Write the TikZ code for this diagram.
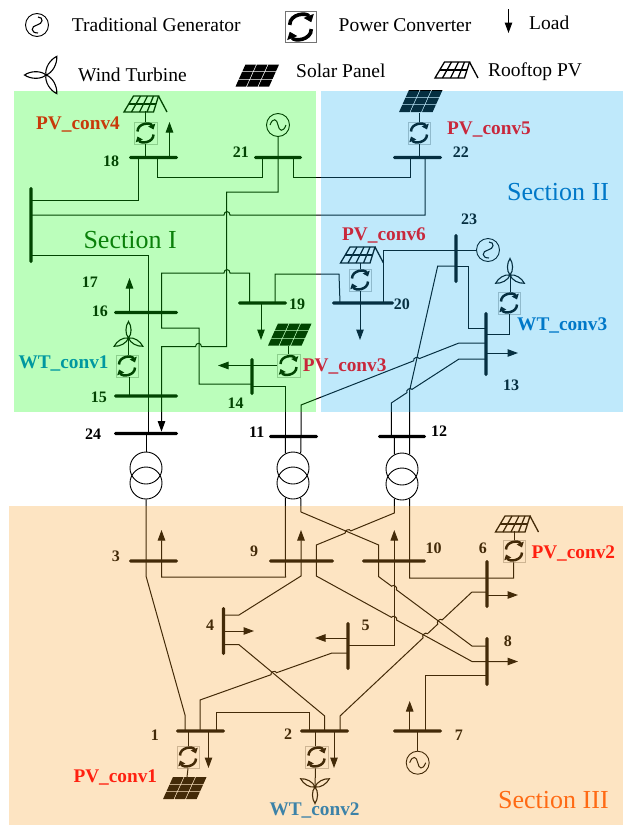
\documentclass[tikz,border=0pt]{standalone}
\usepackage{fontspec}
\setmainfont{Liberation Serif}
\usetikzlibrary{arrows.meta}
\definecolor{secG}{RGB}{4,252,4}
\definecolor{secB}{RGB}{19,174,241}
\definecolor{secO}{RGB}{248,156,30}
\definecolor{txGreen}{RGB}{10,128,10}
\definecolor{txBlue}{RGB}{0,120,200}
\definecolor{txOrange}{RGB}{255,106,20}
\definecolor{lbBrick}{RGB}{200,58,10}
\definecolor{lbCrimson}{RGB}{200,40,60}
\definecolor{lbTeal}{RGB}{0,152,160}
\definecolor{lbRed}{RGB}{255,32,16}
\definecolor{lbSteel}{RGB}{60,130,168}
\tikzset{
  wire/.style={line width=1pt,black},
  load/.style={wire,-{Triangle[length=10.5pt,width=7.5pt]}},
  hbus/.style={rectangle,fill=black,inner sep=0pt,minimum width=#1pt,minimum height=3.4pt,rounded corners=1.6pt},
  vbus/.style={rectangle,fill=black,inner sep=0pt,minimum height=#1pt,minimum width=3.4pt,rounded corners=1.6pt},
  xcirc/.style={circle,draw=black,line width=0.9pt,inner sep=0pt,minimum size=32pt},
  gencirc/.style={circle,draw=black,line width=0.9pt,inner sep=0pt,minimum size=23pt},
  convbox/.style={rectangle,draw=black!25,line width=0.4pt,inner sep=0pt,minimum size=22.5pt},
  busnum/.style={anchor=base west,inner sep=0pt,font=\fontsize{16}{18}\selectfont\bfseries},
  convlab/.style={anchor=base west,inner sep=0pt,font=\fontsize{19.3}{22}\selectfont\bfseries},
  legend/.style={anchor=base west,inner sep=0pt,font=\fontsize{19.5}{22}\selectfont},
  seclab/.style={anchor=base west,inner sep=0pt,font=\fontsize{26}{28}\selectfont},
  pics/convsym/.style={code={
    \draw[line width=#1pt,line cap=butt,-{Triangle[length=1.9*#1pt,width=2.9*#1pt]}] (-8,-1.5) .. controls (-8,-10) and (5,-11) .. (8,-3.5);
    \draw[line width=#1pt,line cap=butt,-{Triangle[length=1.9*#1pt,width=2.9*#1pt]}] (8,1.5) .. controls (8,10) and (-5,11) .. (-8,3.5);
  }},
  windsym/.pic={
    \foreach \a in {90,210,330}
      \draw[line width=1.1pt,rotate=\a] (0,0) .. controls (4,-3.6) and (12,-3.2) .. (16.5,0) .. controls (12,3.2) and (4,3.6) .. (0,0);
  },
  solarsym/.pic={
    \foreach \i in {0,1,2} \foreach \j in {0,1,2}
      \fill[xslant=0.45] (-17+\i*11.5,-11+\j*7.6) rectangle ++(10.6,6.8);
  },
  roofsym/.pic={
    \draw[line width=1.3pt] (-21.5,8) -- (8,8) -- (13,-8) -- (-12,-8) -- cycle;
    \draw[line width=1.3pt] (-16.7,0) -- (10.5,0);
    \draw[line width=1.3pt] (-14,8) -- (-5,-8) (-6,8) -- (2,-8) (1.5,8) -- (8,-8);
    \draw[line width=1.3pt] (13,-8) -- (21.5,8);
  },
  sinesym/.pic={
    \draw[line width=1pt] (-8,0) .. controls (-5,-8) and (-1,-6) .. (0,0) .. controls (1,6) and (5,8) .. (8,0);
  },
  swirlsym/.pic={
    \draw[line width=1.1pt] (1,-8) .. controls (7,-8) and (6,-1) .. (0,0) .. controls (-6,1) and (-7,8) .. (1,8);
  }
}
\begin{document}
\begin{tikzpicture}[x=1pt,y=-1pt]
\useasboundingbox (0,0) rectangle (632,825);

% ---------- buses
\node[hbus=49] (b18) at (153.5,157.5) {};
\node[hbus=48] (b21) at (278,157.5) {};
\node[hbus=49] (b22) at (417.5,157.5) {};
\node[vbus=76] (b17) at (31,225) {};
\node[hbus=64] (b16) at (146,312.5) {};
\node[hbus=64] (b15) at (146,396) {};
\node[hbus=64] (b24) at (146,433.5) {};
\node[hbus=49] (b19) at (262.5,303) {};
\node[hbus=62] (b20) at (363,303) {};
\node[vbus=37] (b14) at (252,376.5) {};
\node[vbus=49] (b23) at (456,258.5) {};
\node[vbus=64] (b13) at (486,344) {};
\node[hbus=49] (b11) at (293.5,436.5) {};
\node[hbus=48] (b12) at (402,436.5) {};
\node[hbus=49] (b3) at (153.5,561) {};
\node[hbus=65] (b9) at (301.5,561) {};
\node[hbus=64] (b10) at (394,561) {};
\node[vbus=48] (b6) at (487,584) {};
\node[vbus=48] (b4) at (223.5,631) {};
\node[vbus=48] (b5) at (348,646) {};
\node[vbus=49] (b8) at (487,661.5) {};
\node[hbus=49] (b1) at (200.5,731) {};
\node[hbus=49] (b2) at (324.5,731) {};
\node[hbus=49] (b7) at (417.5,731) {};

% ---------- transformers
\node[xcirc] (t24a) at (146,468) {};
\node[xcirc] (t24b) at (146,483) {};
\node[xcirc] (t11a) at (293,468) {};
\node[xcirc] (t11b) at (293,483) {};
\node[xcirc] (t12a) at (402,469) {};
\node[xcirc] (t12b) at (402,484) {};

% ---------- generators
\node[gencirc] (g21) at (278,125) {};
\pic at (g21) {sinesym};
\node[gencirc] (g23) at (488,250) {};
\pic at (g23) {swirlsym};
\node[gencirc] (g7) at (417.7,762.7) {};
\pic at (g7) {sinesym};

% ---------- converters
\foreach \nm/\cx/\cy in {c4/145.5/133,c5/419/133,c6/360/280,c13/509/303,c15/127/366,c3/288.5/365.5,c1/188/757,c2/316.5/757,c62/514/551}{
  \node[convbox] (\nm) at (\cx,\cy) {};
  \pic at (\nm) {convsym=2.5};
}

% ---------- sources
\coordinate (p4) at (145.5,111);
\pic at (145.5,104) {roofsym};
\coordinate (p5) at (419,113);
\pic at (421,101) {solarsym};
\coordinate (p6) at (360,263);
\pic at (362,255) {roofsym};
\coordinate (p3) at (288.5,346);
\pic at (290,334.5) {solarsym};
\coordinate (p1) at (187,777);
\pic at (185,788) {solarsym};
\coordinate (p62) at (514,531);
\pic at (517,524) {roofsym};
\coordinate (w15) at (128.5,338);
\pic at (w15) {windsym};
\coordinate (w13) at (510,275);
\pic at (w13) {windsym};
\coordinate (w2) at (315,787);
\pic[rotate=180] at (w2) {windsym};

% ---------- section I and II wiring
\draw[wire] (b18 -| 138.5,0) -- (138.5,200) -- (b17 |- 0,200);
\draw[wire] (b18 -| 157,0) -- (157,177) -- (262.5,177) -- (b21 -| 262.5,0);
\draw[wire] (b21 -| 293.5,0) -- (293.5,177) -- (410,177) -- (b22 -| 410,0);
\draw[wire] (b22 -| 425,0) -- (425,215) -- (230,215) .. controls (230,210.5) and (224,210.5) .. (224,215) -- (b17 |- 0,215);
\draw[load] (g21.south) -- (278,192) -- (226.5,192) -- (226.5,346.7) -- (201.5,346.7) .. controls (201.5,342.2) and (195.5,342.2) .. (195.5,346.7) -- (161.5,346.7) -- (b24.north -| 161.5,0);
\draw[wire] (b17 |- 0,255.5) -- (148,255.5) -- (b24 -| 148,0);
\draw[wire] (b24 -| 146,0) -- (t24a.north);
\draw[wire] (b19 -| 249.5,0) -- (249.5,273) -- (230,273) .. controls (230,268.5) and (224,268.5) .. (224,273) -- (161.5,273) -- (161.5,328) -- (199,328) -- (199,384) -- (b14 |- 0,384);
\draw[wire] (b14 |- 0,386.5) -- (285.5,386.5) -- (b11 -| 285.5,0);
\draw[wire] (b19 -| 275,0) -- (275,274) -- (339,274) -- (b20 -| 340,0);
\draw[load] (b19 -| 261,0) -- (261,340);
\draw[load] (c3.west) -- (218,365.5);
\draw[wire] (p3) -- (c3.north);
\draw[wire] (b11 -| 301,0) -- (301,405) -- (413.7,360.8) .. controls (412.6,358) and (418.2,355.8) .. (419.3,358.6) -- (459,343) -- (b13 |- 0,343);
\draw[wire] (b12 -| 391.3,0) -- (391.3,403) -- (407,392.6) .. controls (405.4,390.1) and (410.4,386.9) .. (412,389.4) -- (459,359) -- (b13 |- 0,359);
\draw[wire] (b12 -| 409.5,0) -- (409.5,391) -- (437.7,266) -- (b23 |- 0,266);
\draw[wire] (b23 |- 0,266) -- (468.7,266) -- (468.7,328.3) -- (b13 |- 0,328.3);
\draw[wire] (g23.west) -- (383.7,250) -- (b20 -| 383.7,0);
\draw[wire] (p6) -- (c6.north);
\draw[load] (c6.south) -- (360,340);
\draw[wire] (p5) -- (c5.north);
\draw[wire] (c5.south) -- (b22 -| 419,0);
\draw[wire] (p4) -- (c4.north);
\draw[wire] (c4.south) -- (b18 -| 145.5,0);
\draw[load] (b18 -| 169.5,0) -- (169.5,122);
\draw[load] (b16 -| 129.5,0) -- (129.5,278);
\draw[wire] (w15) -- (c15.north -| 128.5,0);
\draw[wire] (c15.south -| 129,0) -- (b15 -| 129,0);
\draw[wire] (b13 |- 0,334) -- (509,334) -- (c13.south);
\draw[wire] (w13) -- (c13.north -| 510,0);
\draw[load] (b13 |- 0,353) -- (518,353);

% ---------- transformer leads
\draw[wire] (b11 -| 285.5,0) -- (t11a.118);
\draw[wire] (b11 -| 301,0) -- (t11a.62);
\draw[wire] (b12 -| 394.3,0) -- (t12a.118);
\draw[wire] (b12 -| 409.5,0) -- (t12a.62);

% ---------- section III wiring
\draw[wire] (t24b.south) -- (146,576) -- (185,715) -- (b1 -| 185,0);
\draw[load] (t11b.242) -- (285.5,577) -- (161.5,577) -- (161.5,530);
\draw[wire] (t11b.298) -- (301,512) -- (378.7,545) -- (378.7,576.7) -- (391.6,586.2) .. controls (393.4,583.8) and (398.2,587.4) .. (396.4,589.8) -- (472,646) -- (b8 |- 0,646);
\draw[load] (t12b.242) -- (394.3,513) -- (350.8,530.9) .. controls (349.7,528.1) and (344.1,530.3) .. (345.2,533.1) -- (316.3,545) -- (316.3,576) -- (391.4,617.3) .. controls (392.8,614.7) and (398,617.5) .. (396.6,620.1) -- (472,661.5) -- (518,661.5);
\draw[wire] (t12b.298) -- (409.7,578) -- (513.7,578) -- (c62.south -| 513.7,0);
\draw[load] (b4 |- 0,615) -- (239,615) -- (301,576) -- (301,530);
\draw[load] (b4 |- 0,631) -- (254,631);
\draw[wire] (b4 |- 0,644.7) -- (239,644.7) -- (324.7,716) -- (b2 -| 324.7,0);
\draw[load] (b5 |- 0,638) -- (315,638);
\draw[load] (b5 |- 0,645) -- (394.3,645) -- (394.3,530);
\draw[wire] (b5 |- 0,653) -- (332,653) -- (276.6,672.7) .. controls (275.6,669.9) and (270,671.9) .. (271,674.7) -- (200,700) -- (b1 -| 200,0);
\draw[wire] (b1 -| 216,0) -- (216,712) -- (309,712) -- (b2 -| 309,0);
\draw[load] (b6 |- 0,595) -- (518,595);
\draw[wire] (b6 |- 0,592) -- (472,592) -- (442.2,619.9) .. controls (440.2,617.7) and (435.8,621.9) .. (437.8,624.1) -- (427.5,633.7) .. controls (425.5,631.5) and (421.1,635.7) .. (423.1,637.9) -- (340,716) -- (b2 -| 340,0);
\draw[wire] (b8 |- 0,675) -- (425,675) -- (b7 -| 425,0);
\draw[load] (b7 -| 409.7,0) -- (409.7,701);
\draw[wire] (b7 -| 417.7,0) -- (g7.north);
\draw[wire] (b1 -| 188,0) -- (c1.north);
\draw[wire] (c1.south) -- (p1);
\draw[load] (b1 -| 208.5,0) -- (208.5,768);
\draw[wire] (b2 -| 315.5,0) -- (c2.north -| 315.5,0);
\draw[wire] (c2.south -| 315.5,0) -- (w2);
\draw[load] (b2 -| 334,0) -- (334,768);
\draw[wire] (p62) -- (c62.north);

% ---------- bus numbers
\foreach \t/\nx/\ny in {18/103/166,21/232.7/157,22/452.7/157,23/461/224,17/81.7/287,16/91.7/316,19/289/309,20/393.7/309,15/90.7/402.7,14/227.3/408,24/85/439,11/249/437,12/431/436.7,13/503/390,3/111.7/561,9/250/556,10/425.3/553,6/478.7/553,4/206/630.7,5/361.3/630.7,8/503.7/646.7,1/150.7/740,2/284/739,7/454.7/740}{
  \node[busnum] (n\t) at (\nx,\ny) {\t};
}

% ---------- tinted section overlays
\fill[secG,opacity=0.27] (14,91) rectangle (316,412);
\fill[secB,opacity=0.27] (321,91) rectangle (623,412);
\fill[secO,opacity=0.27] (9,506) rectangle (623,825);

% ---------- legend
\node[gencirc] (lg) at (37,25) {};
\pic at (lg) {swirlsym};
\node[legend] (l1) at (71.7,31.7) {Traditional Generator};
\node[convbox,draw=black!55,minimum size=31pt] (lc) at (300.5,27) {};
\pic[scale=1.35] at (lc) {convsym=3.6};
\node[legend] (l2) at (338.5,31.7) {Power Converter};
\coordinate (la) at (508.5,9);
\coordinate (lb) at (508.5,33);
\draw[load] (la) -- (lb);
\node[legend] (l3) at (529,29.3) {Load};
\pic[rotate=90,scale=1.3] at (46,75) {windsym};
\node[legend] (l4) at (78,81) {Wind Turbine};
\pic at (257.5,75.5) {solarsym};
\node[legend] (l5) at (296,77) {Solar Panel};
\pic at (456.5,70) {roofsym};
\node[legend] (l6) at (488,76) {Rooftop PV};

% ---------- coloured labels
\node[seclab,text=txGreen] (s1) at (83.3,248) {Section I};
\node[seclab,text=txBlue] (s2) at (507,200) {Section II};
\node[seclab,text=txOrange] (s3) at (498,808) {Section III};
\node[convlab,text=lbBrick] (v4) at (36,129) {PV\_conv4};
\node[convlab,text=lbCrimson] (v5) at (447,134) {PV\_conv5};
\node[convlab,text=lbCrimson] (v6) at (342,240) {PV\_conv6};
\node[convlab,text=lbTeal] (v15) at (18.3,368.3) {WT\_conv1};
\node[convlab,text=lbCrimson] (v3) at (302.7,371.7) {PV\_conv3};
\node[convlab,text=txBlue] (v13) at (517,330.7) {WT\_conv3};
\node[convlab,text=lbRed] (v1) at (73.3,782.7) {PV\_conv1};
\node[convlab,text=lbRed] (v62) at (531.3,558.3) {PV\_conv2};
\node[convlab,text=lbSteel] (v2) at (269.3,815) {WT\_conv2};
\end{tikzpicture}
\end{document}
